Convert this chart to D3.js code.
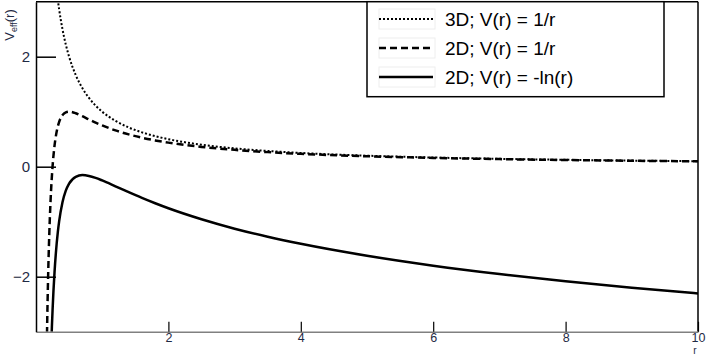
<!DOCTYPE html>
<html>
<head>
<meta charset="utf-8">
<script src="https://cdn.jsdelivr.net/npm/d3@7"></script>
<style>
  body { margin: 0; background: #fff; }
  text { font-family: "Liberation Sans", Arial, sans-serif; }
</style>
</head>
<body>
<div id="chart"></div>
<script>
// data
var r3D = [0.3, 0.33, 0.35, 0.4, 0.45, 0.5, 0.6, 0.7, 0.8, 0.9, 1.0, 1.2, 1.4, 1.6, 1.8, 2, 2.5, 3, 3.5, 4, 5, 6, 7, 8, 9, 10];
var v3D = [3.333, 3.03, 2.857, 2.5, 2.222, 2.0, 1.667, 1.429, 1.25, 1.111, 1.0, 0.833, 0.714, 0.625, 0.556, 0.5, 0.4, 0.333, 0.286, 0.25, 0.2, 0.167, 0.143, 0.125, 0.111, 0.1];

var r2D = [0.15, 0.16, 0.17, 0.18, 0.2, 0.22, 0.25, 0.28, 0.3, 0.33, 0.35, 0.4, 0.45, 0.5, 0.6, 0.7, 0.8, 0.9, 1.0, 1.2, 1.4, 1.6, 1.8, 2, 2.5, 3, 3.5, 4, 5, 6, 7, 8, 9, 10];
var v2D = [-4.444, -3.516, -2.768, -2.16, -1.25, -0.62, 0, 0.383, 0.556, 0.735, 0.816, 0.9375, 0.988, 1.0, 0.972, 0.918, 0.859, 0.802, 0.75, 0.66, 0.587, 0.527, 0.478, 0.4375, 0.36, 0.306, 0.265, 0.234, 0.19, 0.16, 0.138, 0.121, 0.108, 0.0975];

var rLn = [0.2, 0.22, 0.24, 0.25, 0.28, 0.3, 0.33, 0.35, 0.4, 0.45, 0.5, 0.6, 0.7, 0.8, 0.9, 1.0, 1.2, 1.4, 1.6, 1.8, 2, 2.5, 3, 3.5, 4, 5, 6, 7, 8, 9, 10];
var vLn = [-4.641, -3.651, -2.913, -2.614, -1.916, -1.574, -1.187, -0.991, -0.646, -0.436, -0.307, -0.183, -0.153, -0.168, -0.203, -0.25, -0.356, -0.464, -0.568, -0.665, -0.756, -0.956, -1.127, -1.273, -1.402, -1.619, -1.799, -1.951, -2.083, -2.2, -2.305];

var seriesNames = ["3D; V(r) = 1/r", "2D; V(r) = 1/r", "2D; V(r) = -ln(r)"];
var xTicks = [2, 4, 6, 8, 10];
var yTicks = [-2, 0, 2];

var svgWidth = 708;
var svgHeight = 356;
var plot = { left: 36, right: 698, top: 1.7, bottom: 331.7 };

var svg = d3.select("#chart")
  .append("svg")
  .attr("width", svgWidth)
  .attr("height", svgHeight);

var x = d3.scaleLinear().domain([0, 10]).range([plot.left, plot.right]);
var y = d3.scaleLinear().domain([-3, 3]).range([plot.bottom, plot.top]);

svg.append("clipPath").attr("id", "clip")
  .append("rect")
  .attr("x", plot.left).attr("y", plot.top)
  .attr("width", plot.right - plot.left)
  .attr("height", plot.bottom - plot.top);

// curves
var styles = [
  { dash: "2,2", width: 2 },
  { dash: "7,4", width: 2.5 },
  { dash: null, width: 2.5 }
];
var series = [
  r3D.map((r, i) => [r, v3D[i]]),
  r2D.map((r, i) => [r, v2D[i]]),
  rLn.map((r, i) => [r, vLn[i]])
];

var line = d3.line()
  .x(d => x(d[0]))
  .y(d => y(d[1]))
  .curve(d3.curveMonotoneX);

var curves = svg.append("g").attr("clip-path", "url(#clip)");
series.forEach(function (s, i) {
  curves.append("path")
    .datum(s)
    .attr("d", line)
    .attr("fill", "none")
    .attr("stroke", "#000")
    .attr("stroke-width", styles[i].width)
    .attr("stroke-dasharray", styles[i].dash);
});

// frame: top and right border black, bottom axis grey
svg.append("line")
  .attr("x1", plot.left).attr("x2", plot.right)
  .attr("y1", plot.top).attr("y2", plot.top)
  .attr("stroke", "#000").attr("stroke-width", 1.5);
svg.append("line")
  .attr("x1", plot.right).attr("x2", plot.right)
  .attr("y1", plot.top).attr("y2", plot.bottom)
  .attr("stroke", "#000").attr("stroke-width", 1.5);

// x axis
var bottomAxis = d3.axisBottom(x).tickValues(xTicks).tickSize(0).tickPadding(1);
var gx = svg.append("g")
  .attr("transform", `translate(0, ${plot.bottom})`)
  .call(bottomAxis);
gx.select(".domain").attr("stroke", "#808080").attr("stroke-width", 1.5);
gx.selectAll(".tick line").remove();
gx.selectAll(".tick").append("line")
  .attr("y1", 0).attr("y2", -10)
  .attr("stroke", "#000").attr("stroke-width", 1.2);
gx.selectAll(".tick text")
  .attr("font-size", 12.5)
  .attr("fill", "#1f2a44")
  .attr("font-family", "'Liberation Sans', Arial, sans-serif");

// y axis
var leftAxis = d3.axisLeft(y).tickValues(yTicks).tickSize(0).tickPadding(6)
  .tickFormat(d => d < 0 ? "\u2212" + Math.abs(d) : d);
var gy = svg.append("g")
  .attr("transform", `translate(${plot.left}, 0)`)
  .call(leftAxis);
gy.select(".domain").attr("stroke", "#000").attr("stroke-width", 1.5);
gy.selectAll(".tick").append("line")
  .attr("x1", 0).attr("x2", 20)
  .attr("stroke", "#000").attr("stroke-width", 1.5);
gy.selectAll(".tick text")
  .attr("font-size", 15)
  .attr("fill", "#1f2a44")
  .attr("font-family", "'Liberation Sans', Arial, sans-serif");

// axis labels
var yl = svg.append("text")
  .attr("transform", "translate(14, 25) rotate(-90)")
  .attr("text-anchor", "middle")
  .attr("font-size", 13)
  .attr("fill", "#1f2a44");
yl.append("tspan").text("V");
yl.append("tspan").attr("font-size", 9).attr("dy", 3).text("eff");
yl.append("tspan").attr("dy", -3).text("(r)");

svg.append("text")
  .attr("x", plot.right - 3)
  .attr("y", 354)
  .attr("text-anchor", "middle")
  .attr("font-size", 10)
  .attr("fill", "#1f2a44")
  .text("r");

// legend
var legend = svg.append("g");
legend.append("rect")
  .attr("x", 367).attr("y", plot.top)
  .attr("width", 297).attr("height", 95)
  .attr("fill", "#fff")
  .attr("stroke", "#000").attr("stroke-width", 1.5);

seriesNames.forEach(function (name, i) {
  var ly = 19 + i * 29;
  legend.append("rect")
    .attr("x", 379).attr("y", ly - 10)
    .attr("width", 56).attr("height", 20)
    .attr("fill", "none").attr("stroke", "#eee");
  legend.append("line")
    .attr("x1", 379).attr("x2", 433)
    .attr("y1", ly).attr("y2", ly)
    .attr("stroke", "#000")
    .attr("stroke-width", styles[i].width)
    .attr("stroke-dasharray", styles[i].dash);
  legend.append("text")
    .attr("x", 445).attr("y", ly + 7)
    .attr("font-size", 19)
    .attr("fill", "#000")
    .text(name);
});
</script>
</body>
</html>
